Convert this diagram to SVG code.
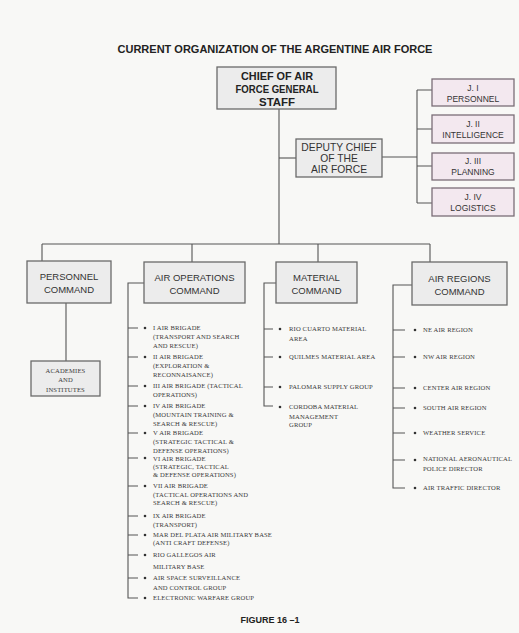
<svg xmlns="http://www.w3.org/2000/svg" width="519" height="633" viewBox="0 0 519 633">
<style>
.bg{fill:#f8f8f6}
.box{fill:#ececec;stroke:#6a6a6a;stroke-width:1.3}
.jbox{fill:#f3e8ef;stroke:#7a6d77;stroke-width:1.3}
.ln{stroke:#555;stroke-width:1.1;fill:none}
.t{font-family:"Liberation Sans",Arial,sans-serif;fill:#333;text-anchor:middle}
.tb{font-family:"Liberation Sans",Arial,sans-serif;font-weight:bold;fill:#222;text-anchor:middle}
.s{font-family:"Liberation Serif","Times New Roman",serif;font-size:6.6px;letter-spacing:0.15px;fill:#3a3a3a}
.dot{fill:#333}
</style>
<rect class="bg" x="0" y="0" width="519" height="633"/>
<text class="tb" x="275" y="53" font-size="11">CURRENT ORGANIZATION OF THE ARGENTINE AIR FORCE</text>

<g id="connectors">
<path class="ln" d="M279 109 V244"/>
<path class="ln" d="M279 158 H296"/>
<path class="ln" d="M382 157 H417"/>
<path class="ln" d="M417 90 V203"/>
<path class="ln" d="M417 90 H432 M417 129 H432 M417 166 H432 M417 203 H432"/>
<path class="ln" d="M42 244 H430"/>
<path class="ln" d="M42 244 V261 M192 244 V262 M318 244 V262 M430 244 V262"/>
<path class="ln" d="M66 303 V361"/>
<path class="ln" d="M144 283 H128 V598 H138"/>
<path class="ln" d="M128 328 H138 M128 357 H138 M128 386 H138 M128 406 H138 M128 433 H138 M128 458 H138 M128 486 H138 M128 516 H138 M128 535 H138 M128 555 H138 M128 578 H138"/>
<path class="ln" d="M276 283 H264 V406 H273"/>
<path class="ln" d="M264 329 H273 M264 357 H273 M264 387 H273"/>
<path class="ln" d="M412 285 H393 V488 H405"/>
<path class="ln" d="M393 330 H405 M393 357 H405 M393 388 H405 M393 408 H405 M393 433 H405 M393 460 H405"/>
</g>

<g id="chief">
<rect class="box" x="217" y="67" width="119" height="42"/>
<text class="tb" x="277" y="80" font-size="11" textLength="72" lengthAdjust="spacingAndGlyphs">CHIEF OF AIR</text>
<text class="tb" x="277" y="93" font-size="11" textLength="83" lengthAdjust="spacingAndGlyphs">FORCE GENERAL</text>
<text class="tb" x="277" y="106" font-size="11" textLength="36" lengthAdjust="spacingAndGlyphs">STAFF</text>
</g>

<g id="deputy">
<rect class="box" x="296" y="139" width="86" height="38"/>
<text class="t" x="339" y="151" font-size="10.3">DEPUTY CHIEF</text>
<text class="t" x="339" y="162" font-size="10.3">OF THE</text>
<text class="t" x="339" y="173" font-size="10.3">AIR FORCE</text>
</g>

<g id="j1">
<rect class="jbox" x="432" y="79" width="82" height="27"/>
<text class="t" x="473" y="91" font-size="8.5">J. I</text>
<text class="t" x="473" y="102" font-size="8.5">PERSONNEL</text>
</g>
<g id="j2">
<rect class="jbox" x="432" y="115" width="82" height="28"/>
<text class="t" x="473" y="127" font-size="8.5">J. II</text>
<text class="t" x="473" y="138" font-size="8.5">INTELLIGENCE</text>
</g>
<g id="j3">
<rect class="jbox" x="432" y="153" width="82" height="27"/>
<text class="t" x="473" y="164" font-size="8.5">J. III</text>
<text class="t" x="473" y="175" font-size="8.5">PLANNING</text>
</g>
<g id="j4">
<rect class="jbox" x="432" y="188" width="82" height="28"/>
<text class="t" x="473" y="200" font-size="8.5">J. IV</text>
<text class="t" x="473" y="211" font-size="8.5">LOGISTICS</text>
</g>

<g id="personnel">
<rect class="box" x="27" y="261" width="84" height="42"/>
<text class="t" x="69" y="280" font-size="9.5">PERSONNEL</text>
<text class="t" x="69" y="293" font-size="9.5">COMMAND</text>
</g>
<g id="academies">
<rect class="box" x="31" y="361" width="69" height="35"/>
<text class="s" x="65.5" y="373" text-anchor="middle">ACADEMIES</text>
<text class="s" x="65.5" y="382" text-anchor="middle">AND</text>
<text class="s" x="65.5" y="392" text-anchor="middle">INSTITUTES</text>
</g>

<g id="airops">
<rect class="box" x="144" y="262" width="101" height="41"/>
<text class="t" x="194.5" y="281" font-size="9.5">AIR OPERATIONS</text>
<text class="t" x="194.5" y="294" font-size="9.5">COMMAND</text>
</g>
<g id="airops-list">
<g class="dot">
<circle cx="145" cy="328" r="1.3"/><circle cx="145" cy="357" r="1.3"/><circle cx="145" cy="386" r="1.3"/><circle cx="145" cy="406" r="1.3"/><circle cx="145" cy="433" r="1.3"/><circle cx="145" cy="458" r="1.3"/><circle cx="145" cy="486" r="1.3"/><circle cx="145" cy="516" r="1.3"/><circle cx="145" cy="535" r="1.3"/><circle cx="145" cy="555" r="1.3"/><circle cx="145" cy="578" r="1.3"/><circle cx="145" cy="598" r="1.3"/>
</g>
<text class="s" x="153" y="330">I AIR BRIGADE</text>
<text class="s" x="153" y="339">(TRANSPORT AND SEARCH</text>
<text class="s" x="153" y="348">AND RESCUE)</text>
<text class="s" x="153" y="359">II AIR BRIGADE</text>
<text class="s" x="153" y="368">(EXPLORATION &amp;</text>
<text class="s" x="153" y="377">RECONNAISANCE)</text>
<text class="s" x="153" y="388">III AIR BRIGADE (TACTICAL</text>
<text class="s" x="153" y="397">OPERATIONS)</text>
<text class="s" x="153" y="408">IV AIR BRIGADE</text>
<text class="s" x="153" y="417">(MOUNTAIN TRAINING &amp;</text>
<text class="s" x="153" y="426">SEARCH &amp; RESCUE)</text>
<text class="s" x="153" y="435">V AIR BRIGADE</text>
<text class="s" x="153" y="444">(STRATEGIC TACTICAL &amp;</text>
<text class="s" x="153" y="453">DEFENSE OPERATIONS)</text>
<text class="s" x="153" y="461">VI AIR BRIGADE</text>
<text class="s" x="153" y="469">(STRATEGIC, TACTICAL</text>
<text class="s" x="153" y="477">&amp; DEFENSE OPERATIONS)</text>
<text class="s" x="153" y="488">VII AIR BRIGADE</text>
<text class="s" x="153" y="497">(TACTICAL OPERATIONS AND</text>
<text class="s" x="153" y="505">SEARCH &amp; RESCUE)</text>
<text class="s" x="153" y="518">IX AIR BRIGADE</text>
<text class="s" x="153" y="527">(TRANSPORT)</text>
<text class="s" x="153" y="537">MAR DEL PLATA AIR MILITARY BASE</text>
<text class="s" x="153" y="545">(ANTI CRAFT DEFENSE)</text>
<text class="s" x="153" y="557">RIO GALLEGOS AIR</text>
<text class="s" x="153" y="569">MILITARY BASE</text>
<text class="s" x="153" y="580">AIR SPACE SURVEILLANCE</text>
<text class="s" x="153" y="590">AND CONTROL GROUP</text>
<text class="s" x="153" y="600">ELECTRONIC WARFARE GROUP</text>
</g>

<g id="material">
<rect class="box" x="276" y="262" width="81" height="41"/>
<text class="t" x="316.5" y="281" font-size="9.5">MATERIAL</text>
<text class="t" x="316.5" y="294" font-size="9.5">COMMAND</text>
</g>
<g id="material-list">
<g class="dot">
<circle cx="280" cy="329" r="1.3"/><circle cx="280" cy="357" r="1.3"/><circle cx="280" cy="387" r="1.3"/><circle cx="280" cy="407" r="1.3"/>
</g>
<text class="s" x="289" y="331">RIO CUARTO MATERIAL</text>
<text class="s" x="289" y="341">AREA</text>
<text class="s" x="289" y="359">QUILMES MATERIAL AREA</text>
<text class="s" x="289" y="389">PALOMAR SUPPLY GROUP</text>
<text class="s" x="289" y="409">CORDOBA MATERIAL</text>
<text class="s" x="289" y="419">MANAGEMENT</text>
<text class="s" x="289" y="427">GROUP</text>
</g>

<g id="airregions">
<rect class="box" x="412" y="262" width="95" height="43"/>
<text class="t" x="459.5" y="282" font-size="9.5">AIR REGIONS</text>
<text class="t" x="459.5" y="295" font-size="9.5">COMMAND</text>
</g>
<g id="airregions-list">
<g class="dot">
<circle cx="415" cy="330" r="1.3"/><circle cx="415" cy="357" r="1.3"/><circle cx="415" cy="388" r="1.3"/><circle cx="415" cy="408" r="1.3"/><circle cx="415" cy="433" r="1.3"/><circle cx="415" cy="460" r="1.3"/><circle cx="415" cy="488" r="1.3"/>
</g>
<text class="s" x="423" y="332">NE AIR REGION</text>
<text class="s" x="423" y="359">NW AIR REGION</text>
<text class="s" x="423" y="390">CENTER AIR REGION</text>
<text class="s" x="423" y="410">SOUTH AIR REGION</text>
<text class="s" x="423" y="435">WEATHER SERVICE</text>
<text class="s" x="423" y="461">NATIONAL AERONAUTICAL</text>
<text class="s" x="423" y="471">POLICE DIRECTOR</text>
<text class="s" x="423" y="490">AIR TRAFFIC DIRECTOR</text>
</g>

<text class="tb" x="270" y="623" font-size="9">FIGURE 16 –1</text>
</svg>
